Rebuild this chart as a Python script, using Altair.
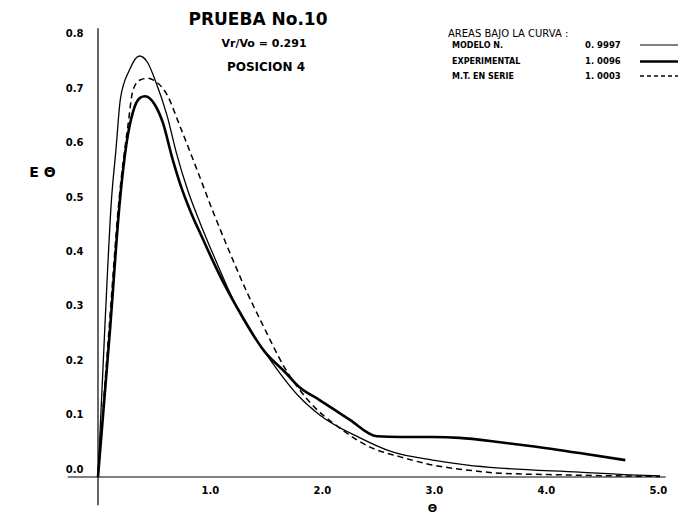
import altair as alt
import pandas as pd

# ---- data ----
model_theta = [0, 0.06, 0.12, 0.16, 0.20, 0.28, 0.37, 0.44, 0.51, 0.62, 0.70, 0.80, 0.91, 1.00,
               1.05, 1.24, 1.54, 1.80, 1.98, 2.34, 2.63, 2.99, 3.30, 3.59, 4.30, 4.75, 5.02]
model_E = [0, 0.270, 0.509, 0.601, 0.695, 0.748, 0.774, 0.763, 0.730, 0.662, 0.596, 0.528, 0.468, 0.423,
           0.399, 0.312, 0.215, 0.147, 0.114, 0.072, 0.046, 0.031, 0.022, 0.0165, 0.009, 0.004, 0.002]

exp_theta = [0, 0.107, 0.196, 0.259, 0.312, 0.375, 0.42, 0.509, 0.58, 0.661, 0.732, 0.821, 0.9375,
             1.027, 1.107, 1.241, 1.49, 1.67, 1.80, 1.98, 2.25, 2.49, 2.70, 2.99, 3.23, 3.59, 3.86,
             4.30, 4.71]
exp_E = [0, 0.270, 0.509, 0.619, 0.671, 0.697, 0.700, 0.684, 0.651, 0.588, 0.540, 0.491, 0.437,
         0.397, 0.363, 0.312, 0.230, 0.193, 0.165, 0.1415, 0.105, 0.075, 0.0735, 0.0735, 0.072, 0.064, 0.057,
         0.044, 0.031]

mt_theta = [0, 0.098, 0.1875, 0.268, 0.312, 0.375, 0.446, 0.491, 0.616, 0.732, 0.884, 1.027, 1.152,
            1.330, 1.473, 1.67, 1.89, 2.16, 2.43, 2.70, 2.99, 3.29, 3.59, 4.13, 5.02]
mt_E = [0, 0.27, 0.509, 0.647, 0.711, 0.730, 0.733, 0.730, 0.703, 0.645, 0.565, 0.488, 0.425,
        0.340, 0.279, 0.200, 0.138, 0.090, 0.055, 0.037, 0.022, 0.013, 0.007, 0.004, 0.001]

x_ticks = [1.0, 2.0, 3.0, 4.0, 5.0]
y_ticks = [0.0, 0.1, 0.2, 0.3, 0.4, 0.5, 0.6, 0.7, 0.8]

title_lines = ["PRUEBA No.10", "Vr/Vo = 0.291", "POSICION  4"]
legend_header = "AREAS BAJO LA CURVA :"
legend_names = ["MODELO   N.", "EXPERIMENTAL", "M.T. EN SERIE"]
legend_areas = ["0. 9997", "1. 0096", "1. 0003"]

FONT = "DejaVu Sans"
W, H = 571, 446

x_scale = alt.Scale(domain=[0, 5.1], nice=False, zero=False)
y_scale = alt.Scale(domain=[0, 0.82], nice=False, zero=False)

x_axis = alt.Axis(values=x_ticks, format=".1f", labelPadding=8, title="Θ",
                  titleX=334, titleY=34, titleAnchor=None, titleFontSize=11,
                  titleFont=FONT, titleFontWeight="bold", titleBaseline="alphabetic")
y_axis = alt.Axis(values=y_ticks, format=".1f", labelPadding=15, labelOffset=-8,
                  title="E Θ",
                  titleAngle=0, titleX=-56, titleY=145, titleAlign="center",
                  titleBaseline="alphabetic", titleFontSize=14, titleFont=FONT,
                  titleFontWeight="bold")


def curve(theta, E, width, dash=None):
    df = pd.DataFrame({"theta": theta, "E": E})
    kw = dict(color="black", strokeWidth=width, interpolate="monotone")
    if dash:
        kw["strokeDash"] = dash
    return alt.Chart(df).mark_line(**kw).encode(
        x=alt.X("theta:Q", scale=x_scale, axis=x_axis),
        y=alt.Y("E:Q", scale=y_scale, axis=y_axis),
    )


def label(text, x, y, size, weight="bold", align="left"):
    return alt.Chart(pd.DataFrame({"t": [text]})).mark_text(
        align=align, baseline="alphabetic", fontSize=size, fontWeight=weight,
        font=FONT, color="black"
    ).encode(x=alt.value(x), y=alt.value(y), text="t:N")


def sample(y, width, dash=None):
    kw = dict(color="black", strokeWidth=width)
    if dash:
        kw["strokeDash"] = dash
    return alt.Chart(pd.DataFrame({"a": [0]})).mark_rule(**kw).encode(
        x=alt.value(542), x2=alt.value(585), y=alt.value(y))


axis_df = pd.DataFrame({"a": [0]})
h_line = alt.Chart(axis_df).mark_rule(color="black", strokeWidth=1.2).encode(
    x=alt.XDatum(-0.27, scale=x_scale), x2=alt.X2Datum(5.07),
    y=alt.YDatum(0, scale=y_scale))
v_line = alt.Chart(axis_df).mark_rule(color="black", strokeWidth=1.2).encode(
    x=alt.XDatum(0, scale=x_scale),
    y=alt.YDatum(-0.052, scale=y_scale), y2=alt.Y2Datum(0.825))

layers = [
    h_line, v_line,
    curve(model_theta, model_E, 1.3),
    curve(exp_theta, exp_E, 2.6),
    curve(mt_theta, mt_E, 1.5, [6, 4]),
    label(title_lines[0], 160, -6, 17, align="center"),
    label(title_lines[1], 166, 16, 11, align="center"),
    label(title_lines[2], 168, 40, 12, align="center"),
    label(legend_header, 350, 6, 10, weight="normal"),
]
row_y = [17, 33, 48]
for name, area, yy in zip(legend_names, legend_areas, row_y):
    layers.append(label(name, 354, yy, 8))
    layers.append(label(area, 487, yy, 8.5))
layers.append(sample(14, 1.2))
layers.append(sample(30.5, 2.6))
layers.append(sample(45, 1.4, [4, 3]))

chart = alt.layer(*layers).properties(
    width=W, height=H,
    padding={"left": 90, "top": 23, "right": 9, "bottom": 36},
    autosize=alt.AutoSizeParams(type="none"),
    background="white",
).configure_view(strokeWidth=0).configure_axis(
    grid=False, domain=False, ticks=False, labelFont=FONT, labelFontSize=10,
    labelFontWeight="bold", labelColor="black", titleColor="black",
)

chart.save("out.html", embed_options={"renderer": "svg", "actions": False})
